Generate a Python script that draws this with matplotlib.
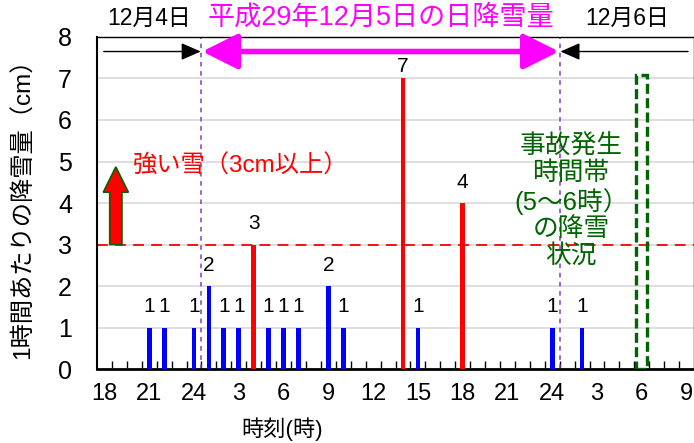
import matplotlib
matplotlib.use("Agg")
import matplotlib.pyplot as plt
from matplotlib.patches import FancyArrow, Rectangle

plt.rcParams['font.family'] = ['Liberation Sans', 'Noto Sans CJK JP', 'DejaVu Sans']

# 12/4 18時 〜 12/6 9時 (1時間ごと)
hours = [(18 + i) % 24 for i in range(40)]
snow = [0, 0, 0, 1, 1, 0, 1,          # 18-24時 (12/4)
        2, 1, 1, 3, 1, 1, 1, 0, 2, 1,  # 1-10時 (12/5)
        0, 0, 0, 7, 1, 0, 0, 4, 0, 0,  # 11-20時
        0, 0, 0, 1,                    # 21-24時
        0, 1, 0, 0, 0, 0, 0, 0, 0]     # 1-9時 (12/6)
tick_idx = list(range(0, 40, 3))
tick_labels = ['18', '21', '24', '3', '6', '9', '12', '15', '18', '21', '24', '3', '6', '9']
heavy = 3

x = list(range(len(snow)))
colors = ['#ff0000' if v >= heavy else '#0000ff' for v in snow]

fig = plt.figure(figsize=(6.94, 4.43), dpi=100)
ax = fig.add_axes([0.1398, 0.167, 0.8602, 0.7495])

ax.bar(x, snow, width=0.32, color=colors, zorder=3)
for i, v in enumerate(snow):
    if v > 0:
        y = v + 0.27 if v < 7 else v + 0.06
        ax.text(i, y, str(v), ha='center', va='bottom', fontsize=15, zorder=4)

ax.set_xlim(-0.5, 39.5)
ax.set_ylim(0, 8)
ax.set_yticks(range(0, 9))
ax.yaxis.grid(True, color='#d9d9d9', linewidth=1.2, zorder=0)
ax.set_axisbelow(True)
ax.tick_params(axis='y', length=0, labelsize=18, pad=18)

ax.set_xticks(tick_idx)
ax.set_xticklabels(tick_labels)
ax.set_xticks([i + 0.5 for i in range(39)], minor=True)
ax.tick_params(axis='x', which='major', length=0, labelsize=17, pad=10)
ax.tick_params(axis='x', which='minor', direction='in', length=6, width=1)

for s in ['top', 'right']:
    ax.spines[s].set_linewidth(1.0)
ax.spines['left'].set_linewidth(1.5)
ax.spines['bottom'].set_linewidth(2.0)

ax.set_xlabel('時刻(時)', fontsize=16)
ax.xaxis.set_label_coords(0.31, -0.145)
ax.set_ylabel('1時間あたりの降雪量（cm）', fontsize=17.5)
ax.yaxis.set_label_coords(-0.104, 0.5)

# 3cm 以上のライン
ax.axhline(heavy, color='#ff0000', linestyle=(0, (6, 4)), linewidth=1.3, zorder=2)
ax.add_patch(FancyArrow(0.76, 3.0, 0, 1.87, width=0.82, head_width=1.68, head_length=0.61,
                        length_includes_head=True, facecolor='#ff0000', edgecolor='#006400',
                        linewidth=1.2, zorder=5))
ax.text(9.1, 4.9, '強い雪（3cm以上）', color='#ff0000', fontsize=17.5, ha='center', va='center')

# 日界
for b in [6.5, 30.5]:
    ax.axvline(b, color='#7f3fbf', linestyle=(0, (3, 3)), linewidth=1.1, zorder=2)

ay = 7.65
ax.annotate('', xy=(6.45, ay), xytext=(-0.05, ay),
            arrowprops=dict(arrowstyle='-|>,head_length=0.8,head_width=0.35', color='black', lw=1,
                            shrinkA=0, shrinkB=0, mutation_scale=15))
ax.annotate('', xy=(30.55, ay), xytext=(39.1, ay),
            arrowprops=dict(arrowstyle='-|>,head_length=0.8,head_width=0.35', color='black', lw=1,
                            shrinkA=0, shrinkB=0, mutation_scale=15))
ax.annotate('', xy=(30.45, ay), xytext=(6.55, ay),
            arrowprops=dict(arrowstyle='<|-|>,head_length=1.2,head_width=0.6', color='#ff00ff', lw=4,
                            shrinkA=0, shrinkB=0, mutation_scale=18))

ax.text(3.0, 8.46, '12月4日', fontsize=16.5, ha='center', va='center', clip_on=False)
ax.text(18.5, 8.46, '平成29年12月5日の日降雪量', fontsize=19.5, color='#ff00ff',
        ha='center', va='center', clip_on=False)
ax.text(35.0, 8.46, '12月6日', fontsize=16.5, ha='center', va='center', clip_on=False)

# 事故発生時間帯
ax.add_patch(Rectangle((35.6, 0), 0.75, 7.08, fill=False, edgecolor='#006400', linewidth=2.4,
                       linestyle=(0, (3, 1.3)), zorder=4))
ax.text(31.27, 4.05, '事故発生\n時間帯\n(5～6時）\nの降雪\n状況', color='#006400', fontsize=18.5,
        ha='center', va='center', linespacing=1.12, zorder=5)

fig.savefig('out.png', dpi=100)
